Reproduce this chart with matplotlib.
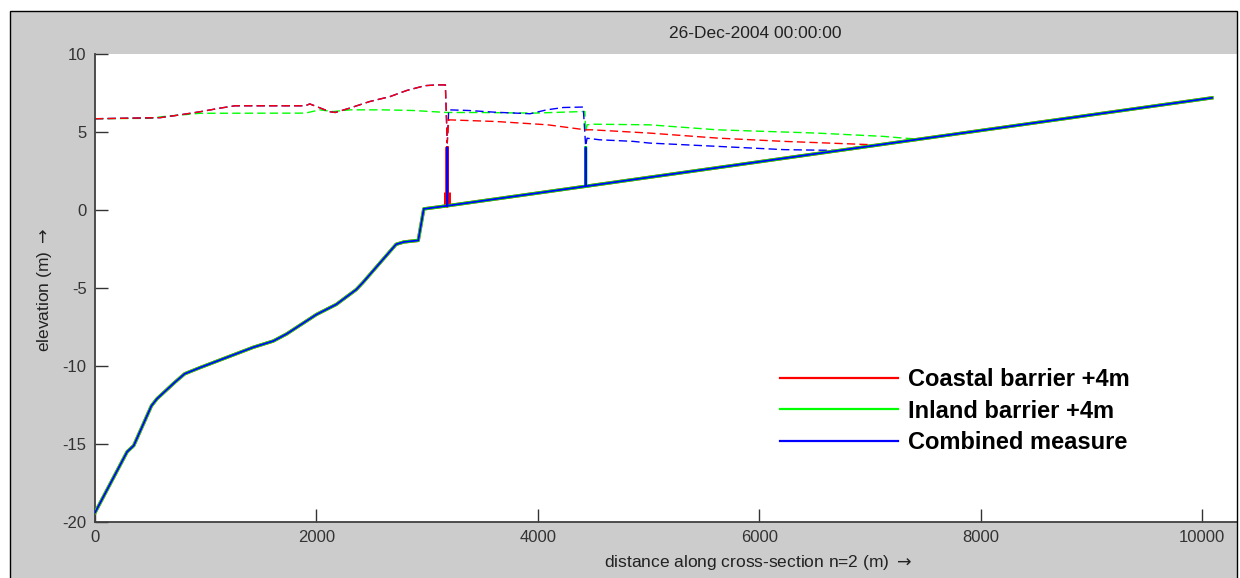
import numpy as np
import matplotlib
matplotlib.use('Agg')
import matplotlib.pyplot as plt
from matplotlib.lines import Line2D
from matplotlib.patches import Rectangle

plt.rcParams['font.family'] = ['Liberation Sans', 'DejaVu Sans']
plt.rcParams['axes.unicode_minus'] = False

# bed profile along cross-section n=2 (same for all three scenarios)
bed_x = [0, 290, 350, 510, 560, 720, 810, 950, 1190, 1430, 1610, 1730, 2000, 2180,
         2360, 2420, 2720, 2790, 2920, 2970, 3182, 4432, 10090]
bed_z = [-19.4, -15.5, -15.1, -12.55, -12.1, -11.05, -10.5, -10.1, -9.45, -8.8, -8.4,
         -7.95, -6.7, -6.05, -5.1, -4.65, -2.2, -2.05, -1.95, 0.07, 0.27, 1.52, 7.19]

# barriers (position, crest level)
coastal_x, coastal_top = 3182, 4.0
inland_x, inland_top = 4432, 4.0
coastal_block = [0.28, 1.15]

# water levels at 26-Dec-2004 00:00
wl_coastal_x = [0, 590, 770, 950, 1130, 1265, 1900, 1940, 2120, 2170, 2300, 2480, 2665,
                2815, 2980, 3090, 3165, 3182, 3195, 3630, 4090, 4430, 4490, 5010, 5620,
                6220, 7000, 7100]
wl_coastal_z = [5.85, 5.92, 6.1, 6.3, 6.53, 6.68, 6.68, 6.8, 6.3, 6.25, 6.53, 6.95, 7.27,
                7.66, 7.97, 8.02, 8.02, 4.3, 5.78, 5.67, 5.46, 5.14, 5.14, 4.93, 4.61,
                4.4, 4.19, 4.19]

wl_inland_x = [0, 500, 630, 950, 1900, 2030, 2150, 2304, 2600, 2870, 3180, 3480, 3960,
               4400, 4425, 4432, 4445, 4500, 5010, 5620, 6520, 7120, 7300, 7450]
wl_inland_z = [5.85, 5.88, 6.0, 6.2, 6.21, 6.42, 6.31, 6.42, 6.42, 6.38, 6.25, 6.25, 6.21,
               6.31, 6.31, 5.0, 5.46, 5.5, 5.46, 5.14, 4.93, 4.72, 4.61, 4.54]

wl_combined_x = [0, 590, 770, 950, 1130, 1265, 1900, 1940, 2120, 2170, 2300, 2480, 2665,
                 2815, 2980, 3090, 3165, 3182, 3195, 3370, 3610, 3930, 4080, 4230, 4410,
                 4432, 4445, 4560, 4860, 5010, 5620, 6220, 6670, 6700]
wl_combined_z = [5.85, 5.92, 6.1, 6.3, 6.53, 6.68, 6.68, 6.8, 6.3, 6.25, 6.53, 6.95, 7.27,
                 7.66, 7.97, 8.02, 8.02, 4.3, 6.42, 6.38, 6.27, 6.17, 6.42, 6.57, 6.6,
                 4.1, 4.6, 4.5, 4.4, 4.29, 4.08, 3.87, 3.82, 3.79]

labels = ['Coastal barrier +4m', 'Inland barrier +4m', 'Combined measure']
colors = ['#ff0000', '#00ff00', '#0000ff']


def add_barrier(xs, zs, bx, top):
    xs, zs = list(xs), list(zs)
    i = xs.index(bx)
    return xs[:i + 1] + [bx, bx] + xs[i + 1:], zs[:i + 1] + [top, zs[i]] + zs[i + 1:]


bed_coastal = add_barrier(bed_x, bed_z, coastal_x, coastal_top)
bed_inland = add_barrier(bed_x, bed_z, inland_x, inland_top)
bed_combined = add_barrier(*bed_coastal, inland_x, inland_top)

fig = plt.figure(figsize=(12.4, 5.78), dpi=100)
fig.patch.set_facecolor('white')
fig.add_artist(Rectangle((10 / 1240, -0.05), 1227 / 1240, 1 - 11 / 578 + 0.05,
                         transform=fig.transFigure, facecolor='#cccccc',
                         edgecolor='none', zorder=-1))

ax = fig.add_axes([95 / 1240, 1 - 522 / 578, (1237 - 95) / 1240, (522 - 54) / 578])
ax.set_facecolor('white')

# water levels (dashed)
dash = (6, 3)
ax.plot(wl_inland_x, wl_inland_z, color=colors[1], lw=1.0, dashes=dash, zorder=2)
ax.plot(wl_combined_x, wl_combined_z, color=colors[2], lw=1.0, dashes=dash, zorder=2)
ax.plot(wl_coastal_x, wl_coastal_z, color=colors[0], lw=1.0, dashes=dash, zorder=2)

# bed levels with barriers
ax.plot(*bed_coastal, color=colors[0], lw=2.4, zorder=3)
ax.plot([coastal_x, coastal_x], coastal_block, color=colors[0], lw=5, zorder=3,
        solid_capstyle='butt')
ax.plot(*bed_inland, color=colors[1], lw=2.3, zorder=3)
ax.plot(*bed_combined, color=colors[2], lw=1.3, zorder=4)

ax.set_xlim(0, 10316)
ax.set_ylim(-20, 10)
ax.set_xticks(np.arange(0, 10001, 2000))
ax.set_yticks(np.arange(-20, 11, 5))
ax.tick_params(direction='in', length=9.5, width=1, colors='#333333', labelsize=12,
               pad=6, top=False, right=False)
for s in ['top', 'right']:
    ax.spines[s].set_visible(False)
for s in ['left', 'bottom']:
    ax.spines[s].set_color('#404040')
    ax.spines[s].set_linewidth(1.3)

fig.text(755 / 1240, 1 - 33 / 578, '26-Dec-2004 00:00:00', ha='center', va='center',
         fontsize=12.5, color='#222222')
fig.text(758 / 1240, 1 - 563 / 578, 'distance along cross-section n=2 (m) $\\rightarrow$',
         ha='center', va='center', fontsize=12.5, color='#222222')
fig.text(45 / 1240, 1 - 290 / 578, 'elevation (m) $\\rightarrow$', ha='center', va='center',
         rotation=90, fontsize=12.5, color='#222222')

handles = [Line2D([], [], color=c, lw=1.6) for c in colors]
ax.legend(handles, labels, loc='upper left', bbox_to_anchor=(780 / 1240, 1 - 368 / 578),
          bbox_transform=fig.transFigure, frameon=False,
          prop=dict(family='Liberation Sans', weight='bold', size=17),
          handlelength=5, handletextpad=0.42, labelspacing=0.37, borderpad=0,
          borderaxespad=0)

fig.add_artist(Rectangle((10 / 1240, -0.05), 1227 / 1240, 1 - 11 / 578 + 0.05,
                         transform=fig.transFigure, fill=False, edgecolor='black',
                         lw=1, zorder=10))

fig.savefig('out.png', dpi=100)
